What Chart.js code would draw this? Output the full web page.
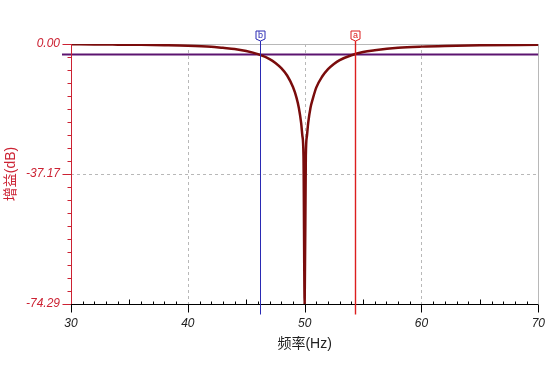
<!DOCTYPE html>
<html>
<head>
<meta charset="utf-8">
<script src="https://cdn.jsdelivr.net/npm/chart.js@4/dist/chart.umd.min.js"></script>
<style>
  html, body { margin: 0; padding: 0; background: #fff; }
  #wrap { width: 557px; height: 371px; position: relative; }
</style>
</head>
<body>
<div id="wrap"><canvas id="notchChart"></canvas></div>
<script>
// Frequency response of the 50 Hz notch
const freqHz = [30, 32, 34, 36, 38, 40, 42, 43, 44, 45, 46, 47, 47.5, 48, 48.5, 49, 49.3, 49.5, 49.7, 49.8, 49.9,
                50, 50.1, 50.2, 50.3, 50.5, 50.7, 51, 51.5, 52, 52.5, 53, 54, 55, 56, 58, 60, 62, 65, 70];
const gainDb = [-0.1, -0.12, -0.18, -0.25, -0.35, -0.5, -0.8, -1.1, -1.4, -2.0, -2.9, -4.3, -5.4, -6.9, -9.0, -12.3, -15.3, -18.2, -22.6, -26.1, -32,
                -74.29, -32, -26.1, -22.6, -18.2, -15.6, -12.4, -9.3, -7.2, -5.7, -4.6, -3.2, -2.3, -1.8, -1.1, -0.75, -0.55, -0.38, -0.23];

// -3 dB reference line
const refFreq = [30, 70];
const refGain = [-3, -3];

// cursors
const cursorFreq = [46.2, 54.3];
const cursorNames = ['b', 'a'];

// axes
const xTicks = [30, 40, 50, 60, 70];
const yTicks = [-74.29, -37.17, 0];
const xMin = 30, xMax = 70;
const yMin = -74.29, yMax = 0;

const FONT = "'Liberation Sans', Arial, 'Noto Sans CJK SC', sans-serif";
const RED = '#cc2233';
const CURVE = '#7a0c0c';
const REF = '#5c1470';
const GRID = '#b8b8b8';
const cursorColors = ['#2a2ab4', '#dc1e1e'];

function line(ctx, x1, y1, x2, y2) {
    ctx.beginPath();
    ctx.moveTo(x1, y1);
    ctx.lineTo(x2, y2);
    ctx.stroke();
}

const framePlugin = {
    id: 'frame',
    beforeDatasetsDraw(chart) {
        const { ctx, chartArea: a, scales: { x, y } } = chart;
        ctx.save();
        ctx.lineWidth = 1;
        ctx.strokeStyle = GRID;
        ctx.setLineDash([3, 3]);
        xTicks.slice(1, -1).forEach(v => {
            const px = Math.round(x.getPixelForValue(v)) + 0.5;
            line(ctx, px, a.top, px, a.bottom);
        });
        yTicks.slice(1, -1).forEach(v => {
            const py = Math.round(y.getPixelForValue(v)) + 0.5;
            line(ctx, a.left, py, a.right, py);
        });
        ctx.setLineDash([]);
        // top and right border
        line(ctx, a.left, Math.round(a.top) + 0.5, a.right, Math.round(a.top) + 0.5);
        line(ctx, Math.round(a.right) + 0.5, a.top, Math.round(a.right) + 0.5, a.bottom);
        ctx.restore();
    },
    afterDatasetsDraw(chart) {
        const { ctx, chartArea: a, scales: { x, y } } = chart;
        ctx.save();
        ctx.lineWidth = 1;

        // the -3 dB line pokes out a little to the left of the axis
        const ry = y.getPixelForValue(refGain[0]);
        ctx.strokeStyle = REF;
        ctx.lineWidth = 2;
        line(ctx, a.left - 9, ry, a.left, ry);
        ctx.lineWidth = 1;

        // y axis (red) with minor ticks
        const ax = Math.round(a.left) + 0.5;
        ctx.strokeStyle = RED;
        line(ctx, ax, a.top, ax, a.bottom);
        for (let i = 0; i <= 20; i++) {
            const v = yMax - i * (yMax - yMin) / 20;
            const py = Math.round(y.getPixelForValue(v)) + 0.5;
            const major = i % 10 === 0;
            line(ctx, ax - (major ? 9 : 4), py, ax, py);
        }

        // x axis (black) with minor ticks
        const by = Math.round(a.bottom) + 0.5;
        ctx.strokeStyle = '#000';
        line(ctx, a.left, by, a.right, by);
        for (let f = xMin; f <= xMax; f++) {
            const px = Math.round(x.getPixelForValue(f)) + 0.5;
            if (f % 10 === 0) {
                line(ctx, px, by, px, by + 8);
            } else if (f % 5 === 0) {
                line(ctx, px, by - 5, px, by);
            } else {
                line(ctx, px, by - 3, px, by);
            }
        }

        // cursors with their little flags
        cursorFreq.forEach((f, i) => {
            const px = Math.round(x.getPixelForValue(f)) + 0.5;
            const col = cursorColors[i];
            ctx.strokeStyle = col;
            ctx.lineWidth = i === 1 ? 1.4 : 1;
            line(ctx, px, a.top - 3, px, by + 10);
            ctx.lineWidth = 1;
            const top = a.top - 13;
            ctx.fillStyle = '#fff';
            ctx.beginPath();
            ctx.moveTo(px - 4.5, top);
            ctx.lineTo(px + 4.5, top);
            ctx.lineTo(px + 4.5, top + 8);
            ctx.lineTo(px, top + 10);
            ctx.lineTo(px - 4.5, top + 8);
            ctx.closePath();
            ctx.fill();
            ctx.stroke();
            ctx.fillStyle = col;
            ctx.font = '9px ' + FONT;
            ctx.textAlign = 'center';
            ctx.textBaseline = 'middle';
            ctx.fillText(cursorNames[i], px, top + 4.5);
        });
        ctx.restore();
    }
};

const chart = new Chart(document.getElementById('notchChart'), {
    type: 'line',
    data: {
        datasets: [
            {
                label: 'gain',
                data: freqHz.map((f, i) => ({ x: f, y: gainDb[i] })),
                borderColor: CURVE,
                borderWidth: 2.5,
                pointRadius: 0,
                cubicInterpolationMode: 'monotone'
            },
            {
                label: '-3dB',
                data: refFreq.map((f, i) => ({ x: f, y: refGain[i] })),
                borderColor: REF,
                borderWidth: 2,
                pointRadius: 0
            }
        ]
    },
    options: {
        responsive: true,
        maintainAspectRatio: false,
        animation: false,
        events: [],
        layout: { padding: { top: 44, right: 18, left: 0, bottom: 0 } },
        plugins: {
            legend: { display: false },
            tooltip: { enabled: false }
        },
        scales: {
            x: {
                type: 'linear',
                min: xMin,
                max: xMax,
                afterBuildTicks: s => { s.ticks = xTicks.map(v => ({ value: v })); },
                afterFit: s => { s.height = 67; },
                grid: { display: false, drawTicks: false },
                border: { display: false },
                ticks: {
                    padding: 12,
                    color: '#222',
                    font: { family: FONT, size: 12, style: 'italic' },
                    maxRotation: 0
                },
                title: {
                    display: true,
                    text: '频率(Hz)',
                    color: '#222',
                    font: { family: FONT, size: 14 },
                    padding: { top: 0, bottom: 18 }
                }
            },
            y: {
                type: 'linear',
                min: yMin,
                max: yMax,
                afterBuildTicks: s => { s.ticks = yTicks.map(v => ({ value: v })); },
                afterFit: s => { s.width = 71; },
                grid: { display: false, drawTicks: false },
                border: { display: false },
                ticks: {
                    padding: 11,
                    color: RED,
                    font: { family: FONT, size: 12, style: 'italic' },
                    callback: v => v.toFixed(2)
                },
                title: {
                    display: true,
                    text: '增益(dB)',
                    color: RED,
                    font: { family: FONT, size: 14 },
                    padding: { top: 3, bottom: 0 }
                }
            }
        }
    },
    plugins: [framePlugin]
});
</script>
</body>
</html>
